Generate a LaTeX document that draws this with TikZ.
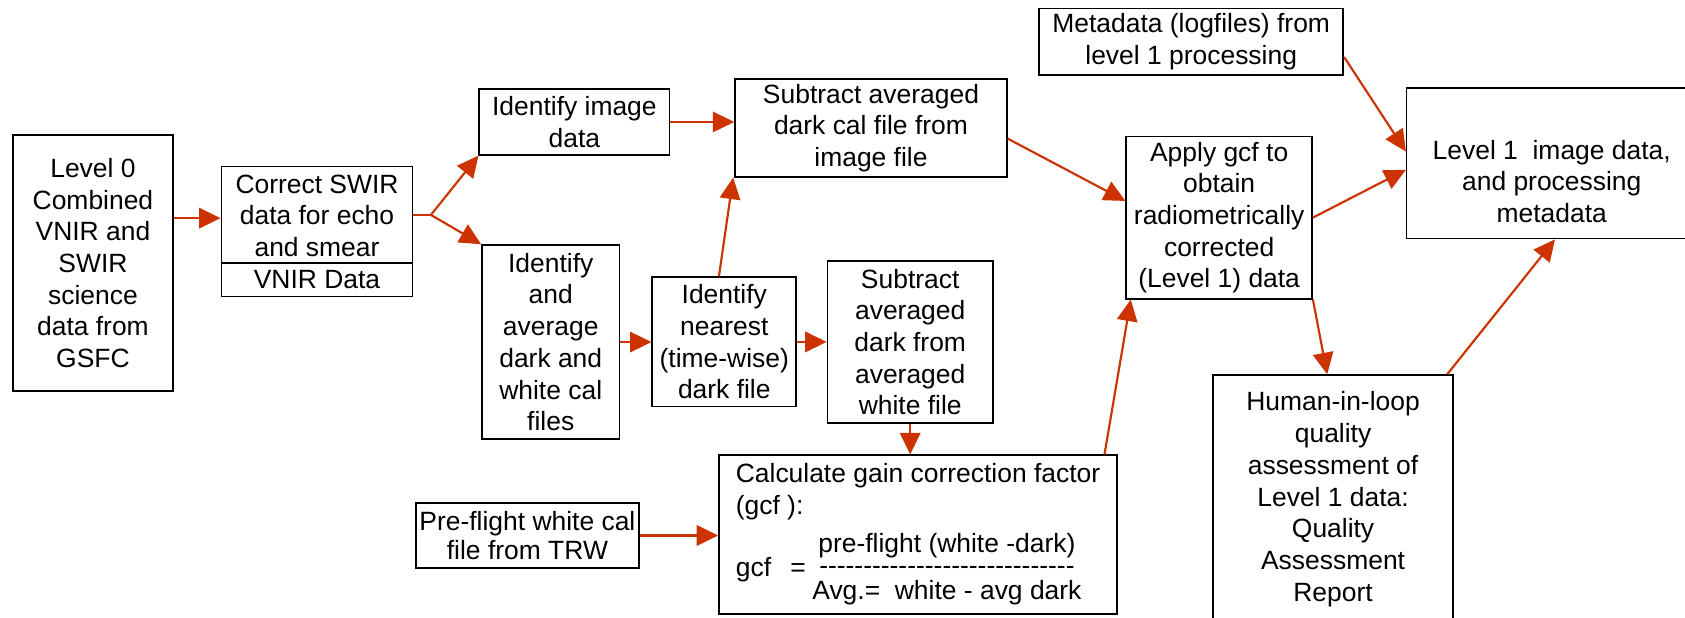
\documentclass[tikz,border=0pt]{standalone}
\usepackage{fontspec}
\setmainfont{Liberation Sans}
\usetikzlibrary{arrows.meta}
\definecolor{flowred}{RGB}{204,51,0}
\tikzset{
  box/.style={draw=black, line width=1.5pt, align=center, inner sep=2pt,
    font=\fontsize{24.6pt}{29.5pt}\selectfont},
  flow/.style={draw=flowred, line width=2pt, -{Triangle[length=20pt,width=19pt]}}
}
\newcommand\dashrow{\foreach \k in {1,...,29}{-\kern0pt}}
\begin{document}
\begin{tikzpicture}[x=1pt,y=-1pt]
  \useasboundingbox (0,0) rectangle (1568,575);
  \path
    (86.5,244.8) node[box, minimum width=149pt, minimum height=238.4pt] (lvl0)
      {Level 0\\Combined\\VNIR and\\SWIR\\science\\data from\\GSFC}
    (295,215.5) node[box, minimum width=178pt, minimum height=121pt] (swir)
      {Correct SWIR\\data for echo\\and smear\\VNIR Data}
    (534.5,113.5) node[box, minimum width=177pt, minimum height=61pt] (idimg)
      {Identify image\\data}
    (810.5,119) node[box, minimum width=253pt, minimum height=91pt] (subdark)
      {Subtract averaged\\dark cal file from\\image file}
    (512.5,318.3) node[box, minimum width=128pt, minimum height=180.6pt] (idavg)
      {Identify\\and\\average\\dark and\\white cal\\files}
    (674,318.2) node[box, minimum width=134pt, minimum height=120.5pt] (nearest)
      {Identify\\nearest\\(time-wise)\\dark file}
    (847,318.3) node[box, minimum width=154pt, minimum height=150.6pt] (subwhite)
      {Subtract\\averaged\\dark from\\averaged\\white file}
    (854.3,497.6) node[box, minimum width=370.5pt, minimum height=148pt, align=left] (calc)
      {Calculate gain correction factor\\(gcf ):\\[12pt]
       gcf\hspace{18pt}=\hspace{6pt}{\def\arraystretch{0.68}\begin{tabular}{@{}c@{}}pre-flight (white -dark)\\\dashrow\\Avg.=\ \ white - avg dark\end{tabular}}}
    (490.8,498.3) node[box, minimum width=207.6pt, minimum height=60.6pt,
        font=\fontsize{24.6pt}{27pt}\selectfont] (preflight)
      {Pre-flight white cal\\file from TRW}
    (1134.5,202.5) node[box, minimum width=173pt, minimum height=151pt] (apply)
      {Apply gcf to\\obtain\\radiometrically\\corrected\\(Level 1) data}
    (1108.5,39) node[box, minimum width=283pt, minimum height=62pt] (meta)
      {Metadata (logfiles) from\\level 1 processing}
    (1444,152) node[box, minimum width=270pt, minimum height=140pt] (lvl1)
      {\rule{0pt}{51.6pt}Level 1\ \ image data,\\and processing\\metadata}
    (1240.5,464.5) node[box, minimum width=223pt, minimum height=231pt] (human)
      {Human-in-loop\\quality\\assessment of\\Level 1 data:\\Quality\\Assessment\\Report};
  \coordinate (split) at (401,200);
  \draw[line width=1.5pt] (swir.west) ++(0,29.5) -- ++(178,0);
  \begin{scope}[flow]
    \draw (lvl0.east |- 0,203) to (swir.west |- 0,203);
    \draw[-] (swir.east |- split) to (split);
    \draw (split) to (idimg.south west);
    \draw (split) to (idavg.north west);
    \draw (idimg.east) to (idimg.east -| subdark.west);
    \draw ([xshift=-5pt]nearest.north) to ([xshift=-1pt]subdark.south west);
    \draw (idavg.east) to (idavg.east -| nearest.west);
    \draw (nearest.east) to (nearest.east -| subwhite.west);
    \draw (subwhite.south) to (subwhite.south |- calc.north);
    \draw (preflight.east) to (preflight.east -| calc.west);
    \draw ([xshift=-12.5pt]calc.north east) to ([xshift=5pt]apply.south west);
    \draw ([yshift=-10pt]subdark.east) to ([yshift=15.5pt]apply.west);
    \draw ([yshift=-14pt]meta.east) to ([yshift=11pt]lvl1.west);
    \draw (apply.east) to ([yshift=-6pt]lvl1.west);
    \draw (apply.south east) to ([xshift=-5.5pt]human.north);
    \draw ([xshift=-6pt]human.north east) to ([xshift=3pt]lvl1.south);
  \end{scope}
\end{tikzpicture}
\end{document}
